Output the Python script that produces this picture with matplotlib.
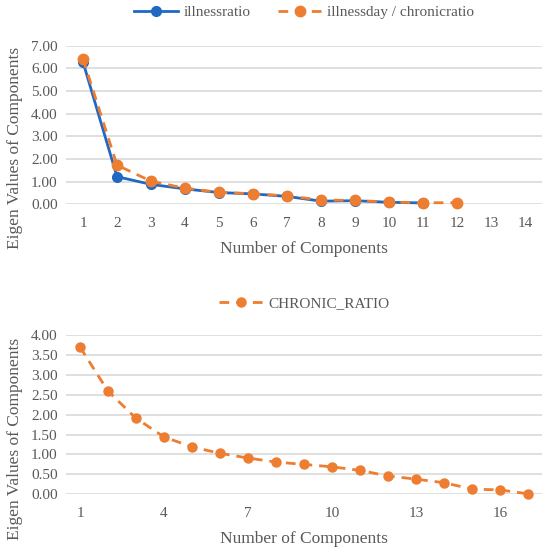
import numpy as np
import matplotlib.pyplot as plt
from matplotlib.ticker import FormatStrFormatter

plt.rcParams['font.family'] = ['Liberation Serif', 'DejaVu Serif']

# top chart data
top_components = np.arange(1, 15)
illnessratio = [6.28, 1.22, 0.88, 0.68, 0.52, 0.46, 0.35, 0.14, 0.16, 0.09, 0.06]
illnessday_chronic = [6.42, 1.73, 1.02, 0.71, 0.53, 0.47, 0.37, 0.19, 0.17, 0.10, 0.07, 0.07]

# bottom chart data
bottom_components = np.arange(1, 18)
chronic_ratio = [3.70, 2.59, 1.91, 1.44, 1.19, 1.03, 0.91, 0.81, 0.75, 0.69, 0.60,
                 0.46, 0.38, 0.29, 0.13, 0.11, 0.01]

blue = '#2068C2'
orange = '#ED7D31'
grid_col = '#D9D9D9'
text_col = '#595959'

fig = plt.figure(figsize=(5.48, 5.5), dpi=100)
ax1 = fig.add_axes([0.1204, 0.6285, 0.869, 0.2885])
ax2 = fig.add_axes([0.1204, 0.1013, 0.869, 0.2895])


def style(ax, ymax, ystep, nx, xticks, xpad):
    ax.set_xlim(0.5, nx + 0.5)
    ax.set_ylim(0, ymax)
    ax.set_yticks(np.arange(0, ymax + ystep / 2, ystep))
    ax.yaxis.set_major_formatter(FormatStrFormatter('%.2f'))
    ax.set_xticks(xticks)
    ax.grid(axis='y', color=grid_col, linewidth=1.2)
    ax.set_axisbelow(True)
    for s in ax.spines.values():
        s.set_visible(False)
    ax.tick_params(length=0, labelsize=11, colors=text_col, pad=9)
    ax.tick_params(axis='y', pad=6)
    ax.set_xlabel('Number of Components', fontsize=12.5, color=text_col, labelpad=xpad)
    ax.set_ylabel('Eigen Values of Components', fontsize=12.5, color=text_col)


ax1.plot(top_components[:len(illnessratio)], illnessratio, color=blue, lw=2,
         marker='o', ms=7, label='illnessratio', clip_on=False, zorder=3)
ax1.plot(top_components[:len(illnessday_chronic)], illnessday_chronic, color=orange, lw=2,
         dashes=(3.5, 2.5), marker='o', ms=7.5, label='illnessday / chronicratio',
         clip_on=False, zorder=4)
style(ax1, 7, 1, 14, top_components, 8)
ax1.yaxis.set_label_coords(-0.09, 0.355)
ax1.legend(loc='center', bbox_to_anchor=(0.5, 1.21), ncol=2, frameon=False,
           fontsize=11, handlelength=2.9, columnspacing=1.8, handletextpad=0.35,
           labelcolor=text_col)

ax2.plot(bottom_components, chronic_ratio, color=orange, lw=2, dashes=(3.5, 2.5),
         marker='o', ms=6.5, label='CHRONIC_RATIO', clip_on=False, zorder=3)
style(ax2, 4, 0.5, 17, [1, 4, 7, 10, 13, 16], 8)
ax2.yaxis.set_label_coords(-0.09, 0.345)
ax2.legend(loc='center', bbox_to_anchor=(0.5, 1.2), frameon=False,
           fontsize=11, handlelength=2.9, handletextpad=0.35, labelcolor=text_col)

fig.savefig('out.png', dpi=100)
